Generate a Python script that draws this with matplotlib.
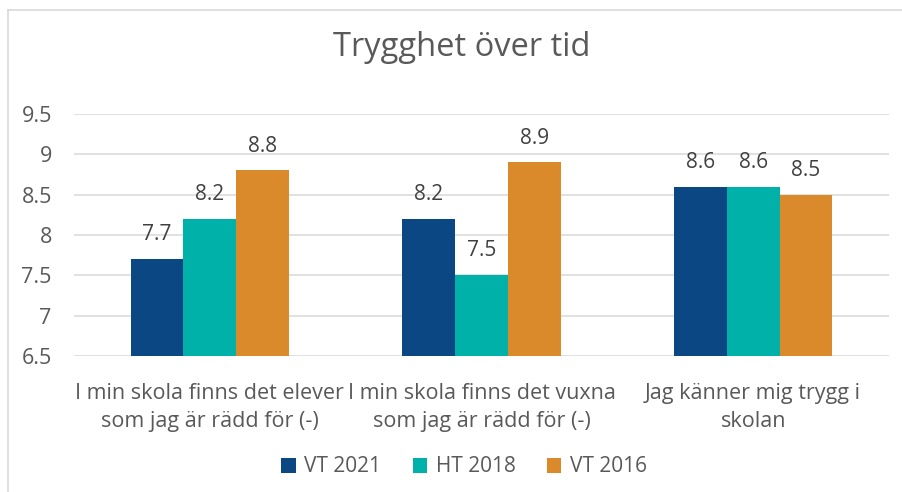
import numpy as np
import matplotlib.pyplot as plt
from matplotlib.lines import Line2D

categories = ['I min skola finns det elever\nsom jag är rädd för (-)',
              'I min skola finns det vuxna\nsom jag är rädd för (-)',
              'Jag känner mig trygg i\nskolan']
series_names = ['VT 2021', 'HT 2018', 'VT 2016']
vt2021 = [7.7, 8.2, 8.6]
ht2018 = [8.2, 7.5, 8.6]
vt2016 = [8.8, 8.9, 8.5]
colors = ['#0B4783', '#00B1AA', '#DA8A2B']
yticks = [6.5, 7, 7.5, 8, 8.5, 9, 9.5]
ytick_labels = ['6.5', '7', '7.5', '8', '8.5', '9', '9.5']

plt.rcParams['font.family'] = ['Open Sans', 'DejaVu Sans']
text_color = '#595959'

fig = plt.figure(figsize=(9.03, 4.92), dpi=100)
ax = fig.add_axes([74 / 903, 1 - 356 / 492, 815 / 903, 242 / 492])

x = np.arange(len(categories))
width = 0.194
base = 6.5
for i, (vals, name) in enumerate(zip([vt2021, ht2018, vt2016], series_names)):
    pos = x + (i - 1) * width
    heights = np.array(vals) - base
    ax.bar(pos, heights, width, bottom=base, color=colors[i], label=name, zorder=3)
    for p, v in zip(pos, vals):
        ax.annotate(f'{v:g}', (p, v), xytext=(0, 10), textcoords='offset points',
                    ha='center', va='bottom', fontsize=15, color='#404040')

ax.set_xlim(-0.5, 2.5)
ax.set_ylim(6.5, 9.5)
ax.set_yticks(yticks)
ax.set_yticklabels(ytick_labels)
ax.set_xticks(x)
ax.set_xticklabels(categories, linespacing=1.45)
ax.tick_params(axis='y', length=0, pad=16, labelsize=15.5, labelcolor=text_color)
ax.tick_params(axis='x', length=0, pad=19.5, labelsize=15.5, labelcolor=text_color)
ax.grid(True, axis='y', color='#D9D9D9', linewidth=1.1, zorder=0)
for s in ax.spines.values():
    s.set_visible(False)

fig.text(462 / 903, 1 - 48 / 492, 'Trygghet över tid', ha='center', va='center',
         fontsize=23.5, color=text_color)

fig.legend(loc='center', bbox_to_anchor=(464 / 903, 1 - 467 / 492), ncol=3,
           frameon=False, fontsize=15, labelcolor=text_color,
           handlelength=0.7, handleheight=0.7, handletextpad=0.4, columnspacing=1.5)

# chart frame
fig.add_artist(Line2D([8 / 903, 8 / 903], [0, 1 - 10 / 492], color='#D9D9D9', linewidth=1.2))
fig.add_artist(Line2D([8 / 903, 1], [1 - 10 / 492, 1 - 10 / 492], color='#D9D9D9', linewidth=1.2))

fig.savefig('out.png', dpi=100)
